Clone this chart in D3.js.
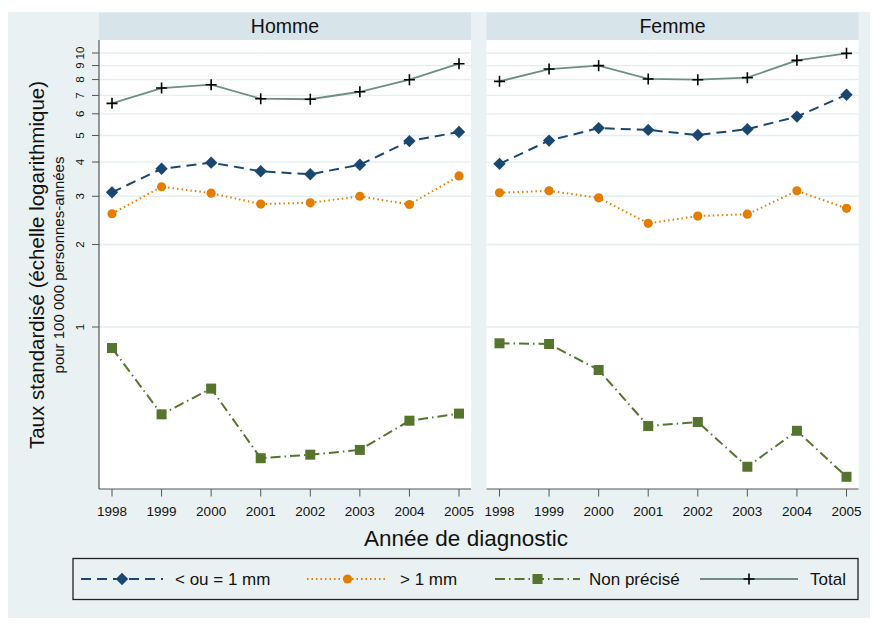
<!DOCTYPE html>
<html lang="fr">
<head>
    <meta charset="utf-8">
    <title>Taux standardisé</title>
    <script src="https://d3js.org/d3.v7.min.js"></script>
    <style>
        body { margin: 0; background: #fff; }
        text { font-family: "Liberation Sans", Arial, sans-serif; fill: #111; }
    </style>
</head>
<body>
    <script type="text/javascript">
        var years = [1998, 1999, 2000, 2001, 2002, 2003, 2004, 2005];
        var panels = ["Homme", "Femme"];
        var yTicks = [1, 2, 3, 4, 5, 6, 7, 8, 9, 10];

        // Homme
        var hommeInf = [3.10, 3.78, 3.98, 3.70, 3.61, 3.91, 4.77, 5.15];
        var hommeSup = [2.59, 3.25, 3.08, 2.81, 2.84, 3.00, 2.80, 3.56];
        var hommeNp = [0.838, 0.480, 0.596, 0.332, 0.342, 0.356, 0.455, 0.483];
        var hommeTotal = [6.55, 7.45, 7.66, 6.81, 6.78, 7.22, 7.99, 9.14];
        // Femme
        var femmeInf = [3.94, 4.79, 5.32, 5.24, 5.02, 5.27, 5.86, 7.04];
        var femmeSup = [3.09, 3.14, 2.96, 2.39, 2.54, 2.58, 3.14, 2.71];
        var femmeNp = [0.872, 0.867, 0.697, 0.435, 0.450, 0.309, 0.418, 0.284];
        var femmeTotal = [7.88, 8.74, 8.99, 8.04, 7.99, 8.13, 9.40, 9.97];

        var seriesNames = ["< ou = 1 mm", "> 1 mm", "Non précisé", "Total"];

        var w = 878, h = 623;
        var svg = d3.select("body").append("svg")
            .attr("width", w).attr("height", h);

        // outer background
        svg.append("rect").attr("x", 8).attr("y", 12)
            .attr("width", 862).attr("height", 606).attr("fill", "#eaf1f3");

        var plotTop = 40, plotBottom = 489, panelW = 372;
        var panelX = [99, 486.5];

        var y = d3.scaleLog().domain([1, 10]).range([327, 53]);
        var x = d3.scaleLinear().domain([1998, 2005]).range([13, 360]);

        var styles = [
            {color: "#1a476f", dash: "10,6", marker: "diamond"},
            {color: "#e37e00", dash: "1.5,3", marker: "circle"},
            {color: "#55752f", dash: "10,4,1.5,4", marker: "square"},
            {color: "#6e8e84", dash: null, marker: "plus"}
        ];

        var data = [
            [hommeInf, hommeSup, hommeNp, hommeTotal],
            [femmeInf, femmeSup, femmeNp, femmeTotal]
        ];

        function drawMarker(g, type, cx, cy, color) {
            if (type === "diamond") {
                g.append("path").attr("d", d3.symbol().type(d3.symbolDiamond2).size(98)())
                    .attr("transform", "translate(" + cx + "," + cy + ")")
                    .attr("fill", color);
            } else if (type === "circle") {
                g.append("circle").attr("cx", cx).attr("cy", cy).attr("r", 4.6).attr("fill", color);
            } else if (type === "square") {
                g.append("rect").attr("x", cx - 5).attr("y", cy - 5)
                    .attr("width", 10).attr("height", 10).attr("fill", color);
            } else {
                g.append("path").attr("d", "M" + (cx - 5.5) + "," + cy + "H" + (cx + 5.5) +
                        "M" + cx + "," + (cy - 5.5) + "V" + (cy + 5.5))
                    .attr("stroke", "#000").attr("stroke-width", 1.6);
            }
        }

        panels.forEach(function(name, p) {
            var g = svg.append("g").attr("transform", "translate(" + panelX[p] + ",0)");

            // header strip
            g.append("rect").attr("x", 0).attr("y", 12.5).attr("width", panelW).attr("height", 27.5)
                .attr("fill", "#d7e4ea");
            g.append("text").attr("x", panelW / 2).attr("y", 33)
                .attr("text-anchor", "middle").attr("font-size", 19.5).text(name);

            // plot area
            g.append("rect").attr("x", 0).attr("y", plotTop).attr("width", panelW)
                .attr("height", plotBottom - plotTop).attr("fill", "#fff");

            // gridlines
            g.selectAll("line.grid").data(yTicks).enter().append("line")
                .attr("class", "grid")
                .attr("x1", 0).attr("x2", panelW)
                .attr("y1", function(d) { return y(d); })
                .attr("y2", function(d) { return y(d); })
                .attr("stroke", "#e4eef1").attr("stroke-width", 1.3);

            // x axis
            var xa = g.append("g").attr("transform", "translate(0," + plotBottom + ")");
            xa.append("line").attr("x1", 0).attr("x2", panelW).attr("stroke", "#555").attr("stroke-width", 1.2);
            xa.selectAll("line.tick").data(years).enter().append("line")
                .attr("x1", function(d) { return x(d); }).attr("x2", function(d) { return x(d); })
                .attr("y1", 0).attr("y2", 7.5).attr("stroke", "#555");
            xa.selectAll("text").data(years).enter().append("text")
                .attr("x", function(d) { return x(d); }).attr("y", 27)
                .attr("text-anchor", "middle").attr("font-size", 13.5).text(function(d) { return d; });

            // y axis only on first panel
            if (p === 0) {
                g.append("line").attr("x1", 0).attr("x2", 0).attr("y1", plotTop).attr("y2", plotBottom)
                    .attr("stroke", "#555").attr("stroke-width", 1.2);
                g.selectAll("line.ytick").data(yTicks).enter().append("line")
                    .attr("class", "ytick")
                    .attr("x1", -7).attr("x2", 0)
                    .attr("y1", function(d) { return y(d); }).attr("y2", function(d) { return y(d); })
                    .attr("stroke", "#555");
                g.selectAll("text.ylab").data(yTicks).enter().append("text")
                    .attr("class", "ylab")
                    .attr("transform", function(d) { return "translate(-15," + y(d) + ") rotate(-90)"; })
                    .attr("text-anchor", "middle").attr("font-size", 11.5).text(function(d) { return d; });
            }

            // series
            data[p].forEach(function(vals, s) {
                var st = styles[s];
                var line = d3.line()
                    .x(function(d, i) { return x(years[i]); })
                    .y(function(d) { return y(d); });
                var path = g.append("path").datum(vals).attr("d", line)
                    .attr("fill", "none").attr("stroke", st.color).attr("stroke-width", 2);
                if (st.dash) path.attr("stroke-dasharray", st.dash);
                if (s === 3) path.attr("stroke-width", 1.8);
                vals.forEach(function(v, i) {
                    drawMarker(g, st.marker, x(years[i]), y(v), st.color);
                });
            });
        });

        // axis titles
        svg.append("text").attr("transform", "translate(44,265) rotate(-90)")
            .attr("text-anchor", "middle").attr("font-size", 20.5)
            .text("Taux standardisé (échelle logarithmique)");
        svg.append("text").attr("transform", "translate(64,265) rotate(-90)")
            .attr("text-anchor", "middle").attr("font-size", 15)
            .text("pour 100 000 personnes-années");
        svg.append("text").attr("x", 466).attr("y", 546)
            .attr("text-anchor", "middle").attr("font-size", 22.5).text("Année de diagnostic");

        // legend
        var lg = svg.append("g");
        lg.append("rect").attr("x", 73).attr("y", 558.5).attr("width", 785).attr("height", 41)
            .attr("fill", "#eaf1f3").attr("stroke", "#222").attr("stroke-width", 1.3);
        var legX = [[81, 163, 175], [307, 388, 400], [495, 580, 589], [700, 798, 810]];
        seriesNames.forEach(function(name, s) {
            var st = styles[s];
            var ly = 579;
            var l = lg.append("line").attr("x1", legX[s][0]).attr("x2", legX[s][1])
                .attr("y1", ly).attr("y2", ly).attr("stroke", st.color).attr("stroke-width", 2);
            if (st.dash) l.attr("stroke-dasharray", st.dash);
            drawMarker(lg, st.marker, (legX[s][0] + legX[s][1]) / 2, ly, st.color);
            lg.append("text").attr("x", legX[s][2]).attr("y", ly + 6)
                .attr("font-size", 17).text(name);
        });
    </script>
</body>
</html>
